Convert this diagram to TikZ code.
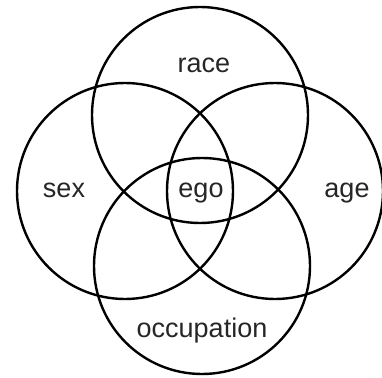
\documentclass[tikz,border=0pt]{standalone}
\usepackage{fontspec}
\setmainfont{Liberation Sans}
\begin{document}
\begin{tikzpicture}[x=1pt,y=-1pt,
  ring/.style={draw=black,line width=2.4pt,circle,minimum size=216pt,inner sep=0pt},
  lbl/.style={font=\fontsize{27}{27}\selectfont,text=black!85,anchor=base,inner sep=0pt}]
\useasboundingbox (0,0) rectangle (382,377);
\node[ring] (craceC) at (200,115) {};
\node[ring] (csexC) at (125,191) {};
\node[ring] (cageC) at (275,191) {};
\node[ring] (coccC) at (202,266) {};
\node[lbl] (race) at (204,73) {race};
\node[lbl] (sex) at (64,197) {sex};
\node[lbl] (age) at (347,197) {age};
\node[lbl] (ego) at (201,197) {ego};
\node[lbl] (occ) at (202,337) {occupation};
\end{tikzpicture}
\end{document}
